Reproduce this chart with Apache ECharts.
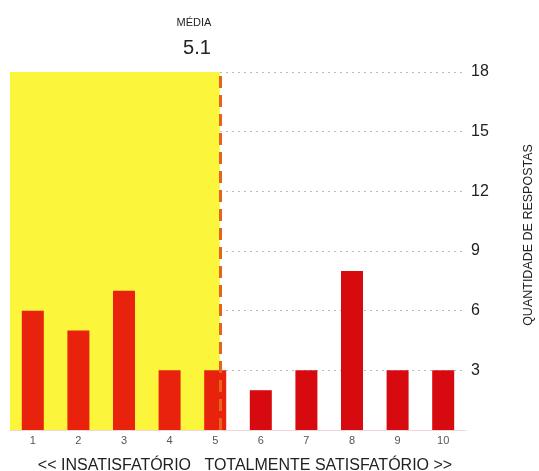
<!DOCTYPE html>
<html><head><meta charset="utf-8">
<script src="https://cdn.jsdelivr.net/npm/echarts@6/dist/echarts.min.js"></script>
<style>html,body{margin:0;padding:0;background:#fff}#c{width:539px;height:471px}</style>
</head><body><div id="c"></div>
<script>
const categories = ['1','2','3','4','5','6','7','8','9','10'];
const counts = [6, 5, 7, 3, 3, 2, 3, 8, 3, 3];
const meanValue = 5.1;
const yTicks = [3, 6, 9, 12, 15, 18];
const meanLabel = 'MÉDIA';
const bottomLabel = '<< INSATISFATÓRIO   TOTALMENTE SATISFATÓRIO >>';
const yName = 'QUANTIDADE DE RESPOSTAS';

const chart = echarts.init(document.getElementById('c'), null, {renderer: 'canvas'});
chart.setOption({
  animation: false,
  backgroundColor: '#fff',
  textStyle: {fontFamily: 'Liberation Sans, Arial, sans-serif'},
  title: [
    {text: meanLabel, left: 189, top: 12, textAlign: 'center',
     textStyle: {fontSize: 11, fontWeight: 'normal', color: '#222'}},
    {text: String(meanValue), left: 192, top: 33, textAlign: 'center',
     textStyle: {fontSize: 20, fontWeight: 'normal', color: '#222'}},
    {text: bottomLabel, left: 240, top: 453, textAlign: 'center',
     textStyle: {fontSize: 16, fontWeight: 'normal', color: '#222'}}
  ],
  grid: {left: 10, right: 73, top: 72, bottom: 41, containLabel: false, outerBoundsMode: 'none'},
  xAxis: [
    {type: 'category', data: categories,
     axisLine: {show: true, lineStyle: {color: '#f3d6d6'}},
     axisTick: {show: false},
     axisLabel: {fontSize: 11, color: '#555', margin: 5}},
    {type: 'value', min: 0.5, max: 10.5, show: false}
  ],
  yAxis: {
    type: 'value', position: 'right', min: 0, max: 18, interval: 3,
    name: yName, nameLocation: 'middle', nameRotate: 90, nameGap: 56,
    nameTextStyle: {fontSize: 12.5, color: '#222', padding: [0, 0, 0, 32]},
    axisLine: {show: false}, axisTick: {show: false},
    axisLabel: {fontSize: 16, color: '#222', margin: 5,
      formatter: v => yTicks.includes(v) ? String(v) : ''},
    splitLine: {show: true, lineStyle: {type: [2, 4], color: '#bbb', width: 1}}
  },
  series: [
    {type: 'bar', xAxisIndex: 0, data: counts, barWidth: 22, z: 3,
     itemStyle: {color: p => p.dataIndex < 5 ? '#e8220c' : '#d70a0f'}},
    {type: 'line', xAxisIndex: 1, data: [], z: 1,
     markArea: {silent: true, itemStyle: {color: '#fbf535', opacity: 0.97},
       data: [[{xAxis: 0.5, yAxis: 0}, {xAxis: meanValue, yAxis: 18}]]},
     markLine: {silent: true, symbol: 'none', label: {show: false}, z: 5,
       lineStyle: {color: '#e8641a', type: [12, 7], width: 3},
       data: [[{coord: [meanValue, 0]}, {coord: [meanValue, 18]}]]}}
  ]
});
</script></body></html>
